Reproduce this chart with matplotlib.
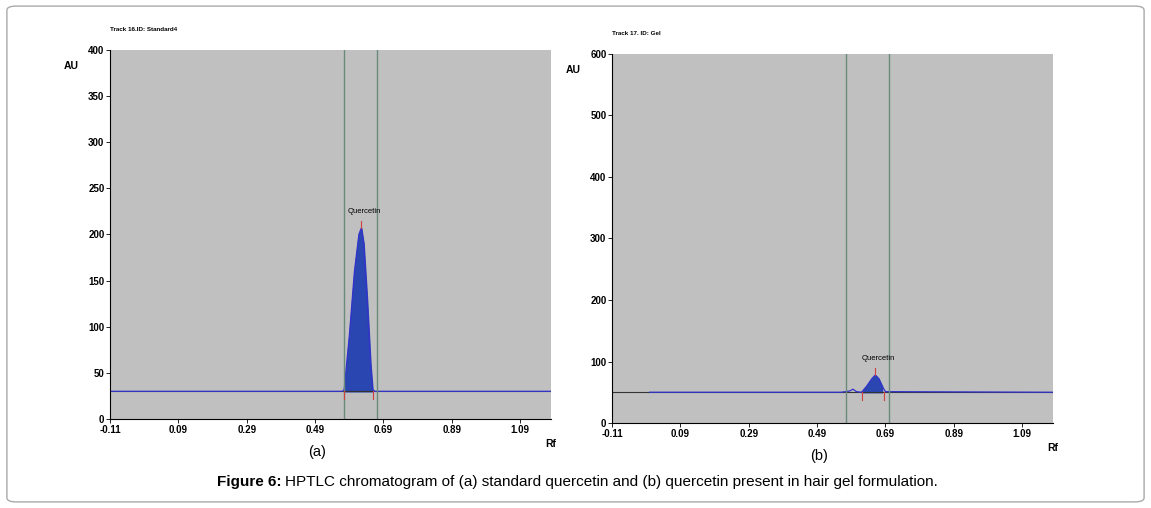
import matplotlib
matplotlib.use("Agg")
import matplotlib.pyplot as plt
from matplotlib.patches import FancyBboxPatch

plt.rcParams['font.family'] = ['Liberation Sans', 'DejaVu Sans']

# Panel (a): standard quercetin
rf_a = [-0.11, 0.570, 0.575, 0.590, 0.605, 0.618, 0.625, 0.632, 0.642, 0.652, 0.658, 0.665, 1.18]
au_a = [30, 30, 32, 90, 160, 200, 207, 190, 130, 60, 32, 30, 30]
peak_a = (0.575, 0.658)
lines_a = (0.575, 0.672)
baseline_a = 30
top_a = 207

# Panel (b): hair gel
rf_b = [0.0, 0.56, 0.585, 0.595, 0.605, 0.62, 0.635, 0.650, 0.660, 0.670, 0.680, 0.690, 1.18]
au_b = [50, 50, 52, 55, 51, 50, 60, 72, 78, 72, 60, 51, 50]
peak_b = (0.620, 0.685)
lines_b = (0.575, 0.700)
baseline_b = 50
top_b = 78

xticks = [-0.11, 0.09, 0.29, 0.49, 0.69, 0.89, 1.09]
xtick_labels = ["-0.11", "0.09", "0.29", "0.49", "0.69", "0.89", "1.09"]

fig = plt.figure(figsize=(11.51, 5.08), dpi=100)
box = FancyBboxPatch((0.006, 0.012), 0.988, 0.976, boxstyle="round,pad=0,rounding_size=0.008",
                     transform=fig.transFigure, fc="none", ec="#aaaaaa", lw=1, zorder=-1)
fig.patches.append(box)

def panel(rect, rf, au, pk, vl, base, top, ymax, yticks, title, label):
    ax = fig.add_axes(rect)
    ax.set_facecolor("#c0c0c0")
    ax.set_xlim(-0.11, 1.18)
    ax.set_ylim(0, ymax)
    ax.axhline(base, color="#333333", lw=0.8)
    ax.plot(rf, au, color="#3333cc", lw=0.9)
    sel = [(x, y) for x, y in zip(rf, au) if pk[0] <= x <= pk[1]]
    ax.fill_between([s[0] for s in sel], [base] * len(sel), [s[1] for s in sel], color="#2a46b0")
    for v in vl:
        ax.axvline(v, color="#6a8a7a", lw=1)
    for x in pk:
        ax.plot([x, x], [base - ymax * 0.02, base], color="#d04040", lw=0.8)
    pkx = rf[au.index(top)]
    ax.plot([pkx, pkx], [top, top + ymax * 0.02], color="#d04040", lw=0.8)
    ax.text(pkx + 0.01, top + ymax * 0.035, "Quercetin", fontsize=5.5, ha="center", va="bottom")
    ax.set_xticks(xticks)
    ax.set_xticklabels(xtick_labels)
    ax.set_yticks(yticks)
    ax.tick_params(labelsize=7, length=3, width=0.6, pad=1)
    for t in ax.get_xticklabels() + ax.get_yticklabels():
        t.set_fontweight("bold")
    for s in ["top", "right"]:
        ax.spines[s].set_visible(False)
    for s in ["left", "bottom"]:
        ax.spines[s].set_linewidth(0.8)
    ax.text(-0.07, 0.97, "AU", transform=ax.transAxes, fontsize=7.5, fontweight="bold", va="top", ha="right")
    ax.text(1.0, -0.055, "Rf", transform=ax.transAxes, fontsize=7.5, fontweight="bold", va="top", ha="center")
    ax.text(0.0, 1.05, title, transform=ax.transAxes, fontsize=4.5, fontweight="bold", va="bottom")
    ax.text(0.47, -0.07, label, transform=ax.transAxes, fontsize=10.5, va="top", ha="center")
    return ax

panel([110 / 1151, 1 - 419 / 508, 441 / 1151, 369 / 508], rf_a, au_a, peak_a, lines_a,
      baseline_a, top_a, 400, [0, 50, 100, 150, 200, 250, 300, 350, 400], "Track 16.ID: Standard4", "(a)")
panel([612 / 1151, 1 - 423 / 508, 441 / 1151, 369 / 508], rf_b, au_b, peak_b, lines_b,
      baseline_b, top_b, 600, [0, 100, 200, 300, 400, 500, 600], "Track 17. ID: Gel", "(b)")

y = 1 - 482 / 508
fig.text(217 / 1151, y, "Figure 6:", ha="left", va="center", fontsize=11, fontweight="bold")
fig.text(285 / 1151, y, "HPTLC chromatogram of (a) standard quercetin and (b) quercetin present in hair gel formulation.",
         ha="left", va="center", fontsize=11)

fig.savefig("out.png", dpi=100)
